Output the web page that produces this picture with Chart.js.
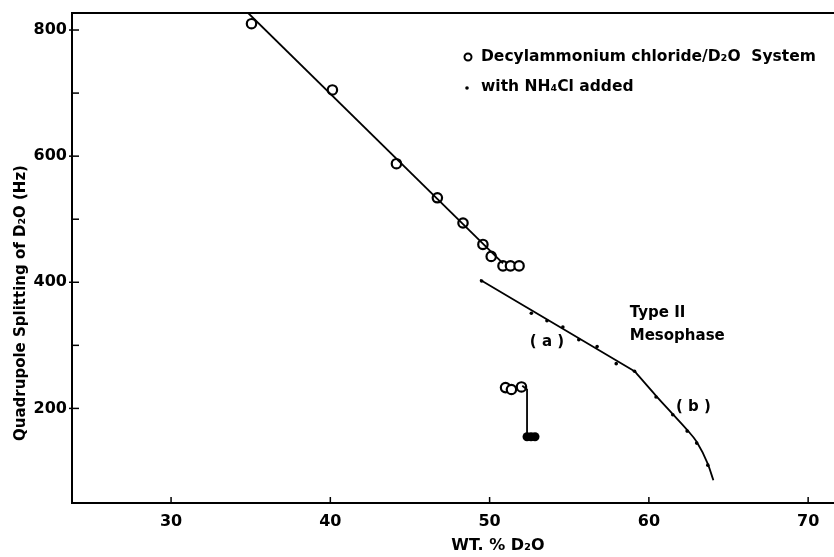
<!DOCTYPE html>
<html>
<head>
<meta charset="utf-8">
<script src="https://cdn.jsdelivr.net/npm/chart.js@4"></script>
<style>
  html, body { margin: 0; padding: 0; background: #fff; }
  #wrap { width: 834px; height: 557px; }
</style>
</head>
<body>
<div id="wrap"><canvas id="chart" width="834" height="557"></canvas></div>
<script>
// open circles: decylammonium chloride / D2O
const circleX = [35.05, 40.13, 44.15, 46.72, 48.33, 49.58, 50.1, 50.84, 51.31, 51.85];
const circleY = [810, 705, 588, 534, 494, 460, 441, 426, 426, 426];
// straight line drawn through the open circles
const fitX = [34.84, 50.84];
const fitY = [827, 430];
// lower group of open circles
const lowX = [51.0, 51.37, 52.0];
const lowY = [233, 230, 234];
// connector down to the filled points
const hookX = [52.05, 52.35, 52.35];
const hookY = [236, 230, 160];
const blobX = [52.35, 52.6, 52.85];
const blobY = [155, 155, 155];
// small dots: with NH4Cl added
const nh4X = [49.5, 52.62, 53.6, 54.6, 55.6, 56.75, 57.95, 59.1, 60.45, 61.5, 62.4, 63.0, 63.7];
const nh4Y = [402, 351, 339, 329, 309, 298, 271, 259, 218, 190, 164, 145, 110];
// branch (a), straight
const curveAX = [49.4, 59.1];
const curveAY = [404, 259];
// branch (b), bending down
const curveBX = [59.1, 60.45, 61.5, 62.4, 63.0, 63.7, 64.05];
const curveBY = [259, 220, 191, 166, 147, 112, 86];

const xTicks = [30, 40, 50, 60, 70];
const yLabels = [200, 400, 600, 800];
const yMinor = [300, 500, 700];

const pts = (xs, ys) => xs.map((x, i) => ({ x: x, y: ys[i] }));
const FONT = "'DejaVu Sans', sans-serif";

const lineSet = (data, extra) => Object.assign({
  data: data, showLine: true, pointRadius: 0, borderColor: '#000',
  borderWidth: 1.8, fill: false, tension: 0
}, extra || {});

const decorPlugin = {
  id: 'decor',
  afterDraw(chart) {
    const ctx = chart.ctx;
    const xs = chart.scales.x, ys = chart.scales.y;
    const a = chart.chartArea;
    ctx.save();
    ctx.strokeStyle = '#000';
    ctx.fillStyle = '#000';
    // top frame, and bottom axis carried to the page edge
    ctx.lineWidth = 2;
    ctx.beginPath();
    ctx.moveTo(a.left, a.top);
    ctx.lineTo(chart.width, a.top);
    ctx.moveTo(a.right - 1, a.bottom);
    ctx.lineTo(chart.width, a.bottom);
    ctx.stroke();
    // tick marks pointing inward
    ctx.lineWidth = 1.5;
    xTicks.forEach(v => {
      const px = xs.getPixelForValue(v);
      ctx.beginPath(); ctx.moveTo(px, a.bottom); ctx.lineTo(px, a.bottom - 6); ctx.stroke();
    });
    yLabels.forEach(v => {
      const py = ys.getPixelForValue(v);
      ctx.beginPath(); ctx.moveTo(a.left - 3, py); ctx.lineTo(a.left + 7, py); ctx.stroke();
    });
    yMinor.forEach(v => {
      const py = ys.getPixelForValue(v);
      ctx.beginPath(); ctx.moveTo(a.left, py); ctx.lineTo(a.left + 7, py); ctx.stroke();
    });

    // legend
    ctx.lineWidth = 2;
    ctx.beginPath(); ctx.arc(468, 57, 3.5, 0, Math.PI * 2); ctx.stroke();
    ctx.beginPath(); ctx.arc(467, 88, 1.8, 0, Math.PI * 2); ctx.fill();
    ctx.font = 'bold 15.5px ' + FONT;
    ctx.textBaseline = 'middle';
    ctx.textAlign = 'left';
    ctx.fillText('Decylammonium chloride/D₂O  System', 481, 57);
    ctx.fillText('with NH₄Cl added', 481, 87);

    // curve labels
    ctx.font = 'bold 15px ' + FONT;
    ctx.fillText('Type II', xs.getPixelForValue(58.8), ys.getPixelForValue(351));
    ctx.fillText('Mesophase', xs.getPixelForValue(58.8), ys.getPixelForValue(314));
    ctx.textAlign = 'center';
    ctx.fillText('( a )', xs.getPixelForValue(53.6), ys.getPixelForValue(305));
    ctx.fillText('( b )', xs.getPixelForValue(62.8), ys.getPixelForValue(202));

    // axis titles
    ctx.font = 'bold 16px ' + FONT;
    ctx.fillText('WT. % D₂O', 498, 546);
    ctx.translate(21, 303);
    ctx.rotate(-Math.PI / 2);
    ctx.font = 'bold 15px ' + FONT;
    ctx.fillText('Quadrupole Splitting of D₂O (Hz)', 0, 0);
    ctx.restore();
  }
};

new Chart(document.getElementById('chart'), {
  type: 'scatter',
  data: {
    datasets: [
      lineSet(pts(fitX, fitY)),
      lineSet(pts(hookX, hookY)),
      lineSet(pts(curveAX, curveAY)),
      lineSet(pts(curveBX, curveBY), { cubicInterpolationMode: 'monotone' }),
      {
        data: pts(nh4X, nh4Y), pointRadius: 1.8, pointBackgroundColor: '#000',
        pointBorderWidth: 0, borderColor: '#000'
      },
      {
        data: pts(circleX, circleY), pointRadius: 4.7, pointBorderWidth: 2.2,
        pointBorderColor: '#000', pointBackgroundColor: '#fff'
      },
      {
        data: pts(lowX, lowY), pointRadius: 4.7, pointBorderWidth: 2.2,
        pointBorderColor: '#000', pointBackgroundColor: '#fff'
      },
      {
        data: pts(blobX, blobY), pointRadius: 4.5, pointBorderWidth: 0,
        pointBorderColor: '#000', pointBackgroundColor: '#000'
      }
    ]
  },
  options: {
    responsive: false,
    animation: false,
    layout: { padding: { top: 13, right: 0, bottom: 0, left: 0 } },
    plugins: { legend: { display: false }, tooltip: { enabled: false } },
    scales: {
      x: {
        type: 'linear', min: 23.78, max: 71.19,
        grid: { display: false, drawTicks: false },
        border: { display: true, color: '#000', width: 2 },
        afterFit(s) { s.height = 54; s.paddingRight = 0; s.paddingLeft = 0; },
        ticks: {
          stepSize: 10, includeBounds: false, autoSkip: false, maxRotation: 0,
          color: '#000', padding: 9, font: { family: FONT, size: 16, weight: 'bold' }
        }
      },
      y: {
        type: 'linear', min: 50, max: 827,
        grid: { display: false, drawTicks: false },
        border: { display: true, color: '#000', width: 2 },
        afterFit(s) { s.width = 72; s.paddingTop = 0; s.paddingBottom = 0; },
        ticks: {
          stepSize: 100, includeBounds: false, autoSkip: false,
          color: '#000', padding: 5, font: { family: FONT, size: 16, weight: 'bold' },
          callback: v => (v % 200 === 0 && v >= 200) ? String(v) : ''
        }
      }
    }
  },
  plugins: [decorPlugin]
});
</script>
</body>
</html>
